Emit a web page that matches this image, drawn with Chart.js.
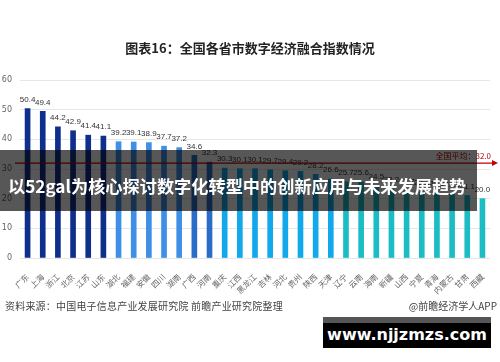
<!DOCTYPE html>
<html>
<head>
<meta charset="utf-8">
<script src="https://cdn.jsdelivr.net/npm/chart.js@4/dist/chart.umd.min.js"></script>
<style>
  html, body { margin: 0; padding: 0; background: #fff; }
  #wrap { position: relative; width: 500px; height: 362px; overflow: hidden; font-family: "Noto Sans CJK SC", "Noto Sans", sans-serif; }
  #c { position: absolute; left: 0; top: 0; }
  .title { position: absolute; left: 0; width: 500px; top: 39px; text-align: center; font-size: 13px; font-weight: bold; color: #222; line-height: 18px; }
  .src { position: absolute; left: 5px; top: 299px; font-size: 10px; color: #444; line-height: 14px; letter-spacing: 0.2px; }
  .app { position: absolute; right: 3px; top: 299px; font-size: 10px; color: #444; line-height: 14px; }
  .band { position: absolute; left: 0; top: 150px; width: 477px; height: 61px; background: rgba(0,0,0,0.66); }
  .bandtxt { position: absolute; left: 8px; top: 173px; font-size: 17.2px; font-weight: bold; color: #fff; line-height: 26px; white-space: nowrap; }
  .wm { position: absolute; left: 323px; top: 317px; width: 168px; height: 31px; background: #000; }
  .wm .strip { position: absolute; left: 0; top: 0; width: 100%; height: 6px; background: #555; }
  .wm .t { position: absolute; left: 0; top: 5px; width: 100%; text-align: center; color: #fff; font-family: "DejaVu Sans", sans-serif; font-weight: bold; font-size: 16px; line-height: 26px; }
</style>
</head>
<body>
<div id="wrap">
  <canvas id="c" width="500" height="362"></canvas>
  <div class="title">图表16：全国各省市数字经济融合指数情况</div>
  <div class="band"></div>
  <div class="bandtxt">以52gal为核心探讨数字化转型中的创新应用与未来发展趋势</div>
  <div class="src">资料来源：中国电子信息产业发展研究院 前瞻产业研究院整理</div>
  <div class="app">@前瞻经济学人APP</div>
  <div class="wm"><div class="strip"></div><div class="t">www.njjzmzs.com</div></div>
</div>
<script>
const provinces = ["广东","上海","浙江","北京","江苏","山东","湖北","福建","安徽","四川","湖南","广西","河南","重庆","江西","黑龙江","吉林","河北","贵州","陕西","天津","辽宁","云南","海南","新疆","山西","宁夏","青海","内蒙古","甘肃","西藏"];
const indexValues = [50.4,49.4,44.2,42.9,41.4,41.1,39.2,39.1,38.9,37.7,37.2,34.6,32.3,30.3,30.1,30.1,29.7,29.4,29.2,28.2,26.6,25.7,25.6,24.5,23.2,22.7,22.3,21.9,21.5,21.1,20.0];
const nationalAverage = 32.0;
const averageLabel = "全国平均：";
const yTicks = [0,10,20,30,40,50,60];

// colour groups (style only)
const groupSizes = [6,5,2,8,10];
const groupColors = ["#0f2f8c","#3f8fe6","#2a6cc8","#12a9ec","#1cbcc4"];
const barColors = [];
groupSizes.forEach((n,g)=>{ for(let i=0;i<n;i++) barColors.push(groupColors[g]); });

const annotPlugin = {
  id: 'annot',
  afterDatasetsDraw(chart) {
    const ctx = chart.ctx;
    const meta = chart.getDatasetMeta(0);
    const ys = chart.scales.y;
    ctx.save();
    ctx.font = '8px "Liberation Sans", sans-serif';
    ctx.fillStyle = '#333';
    ctx.textAlign = 'center';
    ctx.textBaseline = 'bottom';
    meta.data.forEach((bar, i) => {
      ctx.fillText(indexValues[i].toFixed(1), bar.x, bar.y - 5);
    });
    // average line
    const ya = ys.getPixelForValue(nationalAverage);
    const x0 = chart.chartArea.left - 5;
    const x1 = 498;
    ctx.strokeStyle = '#c00000';
    ctx.lineWidth = 1.3;
    ctx.beginPath();
    ctx.moveTo(x0, ya);
    ctx.lineTo(x1 - 4, ya);
    ctx.stroke();
    ctx.fillStyle = '#c00000';
    ctx.beginPath();
    ctx.moveTo(x1, ya);
    ctx.lineTo(x1 - 6, ya - 3);
    ctx.lineTo(x1 - 6, ya + 3);
    ctx.closePath();
    ctx.fill();
    ctx.font = '8px "Noto Sans CJK SC", sans-serif';
    ctx.textAlign = 'right';
    ctx.textBaseline = 'middle';
    ctx.fillText(averageLabel + nationalAverage.toFixed(1), 491, ya - 7);
    ctx.restore();
  }
};

new Chart(document.getElementById('c'), {
  type: 'bar',
  data: {
    labels: provinces,
    datasets: [{
      data: indexValues,
      backgroundColor: barColors,
      barThickness: 5,
      borderWidth: 0
    }]
  },
  options: {
    responsive: false,
    animation: false,
    layout: { padding: { left: 0, right: 10, top: 80, bottom: 0 } },
    plugins: { legend: { display: false }, tooltip: { enabled: false }, title: { display: false } },
    scales: {
      y: {
        min: 0, max: 60,
        afterBuildTicks: (s) => { s.ticks = yTicks.map(v => ({ value: v })); },
        afterFit: (s) => { s.width = 20; },
        grid: { color: '#e6e6e6', lineWidth: 1, drawTicks: false },
        border: { display: false },
        ticks: { color: '#666', font: { size: 8, family: '"DejaVu Sans", sans-serif' }, padding: 8 }
      },
      x: {
        afterFit: (s) => { s.height = 104; },
        grid: { display: false },
        border: { display: false },
        ticks: { autoSkip: false, maxRotation: 45, minRotation: 45, color: '#666', font: { size: 8, family: '"Noto Sans CJK SC", sans-serif' }, padding: 6 }
      }
    }
  },
  plugins: [annotPlugin]
});
</script>
</body>
</html>
